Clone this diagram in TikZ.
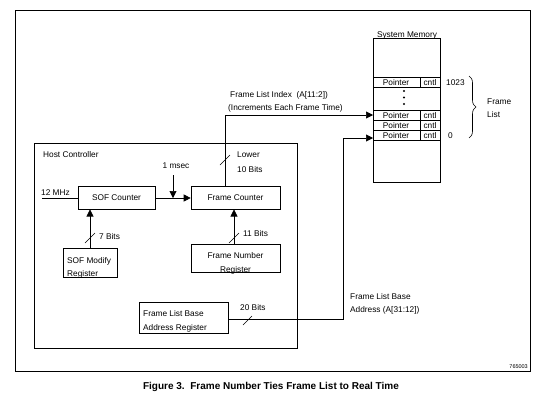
\documentclass[tikz,border=0pt]{standalone}
\usepackage{fontspec}
\setmainfont{Liberation Sans}
\usetikzlibrary{arrows.meta,decorations.pathreplacing}
\begin{document}
\begin{tikzpicture}[x=1pt,y=-1pt,
  every node/.style={font=\fontsize{8.3}{10}\selectfont, inner sep=0pt},
  box/.style={draw, line width=0.6pt},
  conn/.style={line width=0.6pt},
  arr/.style={conn, -{Triangle[length=7pt,width=7pt]}},
  tick/.style={line width=0.5pt},
  lbl/.style={anchor=west}]
\useasboundingbox (0,0) rectangle (554,400);
% outer frame
\draw[line width=0.8pt] (15,10) rectangle (530,371);
\node[anchor=south east, font=\fontsize{5.5}{6}\selectfont] (fig) at (528,369) {765003};
\node[font=\bfseries\fontsize{10}{12}\selectfont] (cap) at (271,387) {Figure 3.\ \ Frame Number Ties Frame List to Real Time};

% system memory
\draw[box] (373,38) rectangle (440,182);
\node[anchor=south] (smlbl) at (407,39.5) {System Memory};
\draw[conn] (373,77) -- (440,77) (373,87) -- (440,87) (420,77) -- (420,87);
\draw[conn] (373,110) -- (440,110) (373,120) -- (440,120) (373,130) -- (440,130) (373,140) -- (440,140) (420,110) -- (420,140);
\node (p1) at (396,83) {Pointer};
\node (c1) at (430,83) {cntl};
\node (p2) at (396,116) {Pointer};
\node (c2) at (430,116) {cntl};
\node (p3) at (396,126) {Pointer};
\node (c3) at (430,126) {cntl};
\node (p4) at (396,136) {Pointer};
\node (c4) at (430,136) {cntl};
\fill (404,91) circle (1.2) (404,97.5) circle (1.2) (404,104) circle (1.2);
\node[lbl] (n1023) at (446,82.5) {1023};
\node[lbl] (n0) at (448,135.5) {0};
\coordinate (btop) at (469,76);
\coordinate (bbot) at (469,138);
\draw[conn, decorate, decoration={brace, amplitude=7pt}] (btop) -- (bbot);
\node[lbl] (fl1) at (487,102) {Frame};
\node[lbl] (fl2) at (487,115) {List};

% host controller
\draw[box] (34,143) rectangle (297,348);
\node[lbl] (hc) at (43,154.5) {Host Controller};

\node[box, minimum width=77pt, minimum height=23pt] (sof) at (116.5,198) {SOF Counter};
\node[box, minimum width=89pt, minimum height=23pt] (fc) at (235.5,198) {Frame Counter};
\draw[box] (63,248) rectangle (117,277);
\coordinate (sofm) at (90,248);
\node[lbl] (sofm1) at (67,261.5) {SOF Modify};
\node[lbl] (sofm2) at (67,274) {Register};
\draw[box] (191,244) rectangle (280,272);
\coordinate (fnr) at (234,244);
\node (fnr1) at (235.5,255.5) {Frame Number};
\node (fnr2) at (235.5,270) {Register};
\node[box, minimum width=89pt, minimum height=31pt] (flb) at (183.5,317.5) {};
\node[lbl] (flb1) at (143,314) {Frame List Base};
\node[lbl] (flb2) at (143,328) {Address Register};

% 12 MHz input
\coordinate (clk) at (42,198);
\draw[conn] (clk) -- (sof.west);
\node[anchor=south west] (mhz) at (41,195.5) {12 MHz};
% SOF -> FC
\draw[arr] (sof.east) -- (fc.west);
\coordinate (ms) at (173,175);
\draw[arr] (ms) -- (173,198);
\node[anchor=south] (msl) at (176,169) {1 msec};
% modify -> sof
\draw[arr] (sofm) -- (90,209.5);
\draw[tick] (85,243) -- (95,233);
\node[lbl] (b7) at (99,237) {7 Bits};
% fnr -> fc
\draw[arr] (fnr) -- (234,209.5);
\draw[tick] (229,243) -- (239,233);
\node[lbl] (b11) at (243,234) {11 Bits};
% fc -> memory (frame list index)
\coordinate (fcu) at (225,186.5);
\coordinate (m1) at (373,115);
\draw[arr] (fcu) -- (225,115) -- (m1);
\draw[tick] (220,165) -- (230,155);
\node[lbl] (low) at (237,155) {Lower};
\node[lbl] (low2) at (237,170) {10 Bits};
\node[lbl] (fli1) at (230,95) {Frame List Index\ \ (A[11:2])};
\node[lbl] (fli2) at (228,108) {(Increments Each Frame Time)};
% base -> memory
\coordinate (m0) at (373,138);
\draw[arr] (flb.east |- 0,319) -- (343,319) -- (343,138) -- (m0);
\draw[tick] (243,325) -- (252,316);
\node[lbl] (b20) at (240,308) {20 Bits};
\node[lbl] (flba1) at (350,297) {Frame List Base};
\node[lbl] (flba2) at (350,310.5) {Address (A[31:12])};
\end{tikzpicture}
\end{document}
